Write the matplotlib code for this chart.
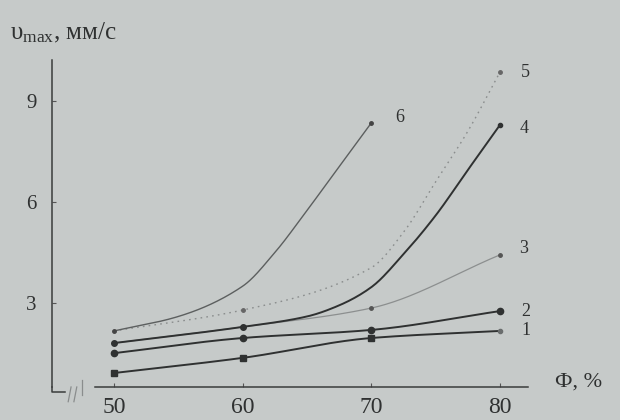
import numpy as np
import matplotlib
matplotlib.use("Agg")
import matplotlib.pyplot as plt

plt.rcParams['font.family'] = ['Liberation Serif', 'DejaVu Serif']
plt.rcParams['mathtext.fontset'] = 'custom'
plt.rcParams['mathtext.rm'] = 'Liberation Serif'
plt.rcParams['mathtext.it'] = 'Liberation Serif:italic'

# curves 1..6, phi in %, v_max in mm/s
phi_1 = [50, 60, 70, 80]
v_1 = [0.92, 1.37, 1.96, 2.17]
phi_2 = [50, 60, 70, 80]
v_2 = [1.51, 1.96, 2.20, 2.76]
phi_3 = [50, 60, 70, 80]
v_3 = [1.81, 2.29, 2.85, 4.43]
phi_4 = [50, 60, 65, 67.5, 70, 72.5, 75, 77.5, 80]
v_4 = [1.81, 2.29, 2.60, 2.93, 3.47, 4.45, 5.6, 6.95, 8.29]
phi_5 = [50, 60, 70, 72.5, 75, 77.5, 80]
v_5 = [2.17, 2.79, 4.05, 5.1, 6.6, 8.1, 9.86]
phi_6 = [50, 55, 60, 62.5, 65, 67.5, 70]
v_6 = [2.17, 2.6, 3.5, 4.5, 5.75, 7.05, 8.35]

x_ticks = [50, 60, 70, 80]
y_ticks = [3, 6, 9]
curve_names = ['1', '2', '3', '4', '5', '6']

bg = '#c6cac9'
ink = '#2f3131'


def smooth(xs, ys, n=200):
    # monotone cubic (pchip) path through the read points, for drawing only
    x = np.asarray(xs, float)
    y = np.asarray(ys, float)
    h = np.diff(x)
    d = np.diff(y) / h
    m = np.zeros_like(y)
    for k in range(1, len(x) - 1):
        if d[k - 1] * d[k] > 0:
            w1 = 2 * h[k] + h[k - 1]
            w2 = h[k] + 2 * h[k - 1]
            m[k] = (w1 + w2) / (w1 / d[k - 1] + w2 / d[k])
    m[0] = d[0]
    m[-1] = d[-1]
    xx = np.linspace(x[0], x[-1], n)
    i = np.clip(np.searchsorted(x, xx) - 1, 0, len(x) - 2)
    t = (xx - x[i]) / h[i]
    h00 = 2 * t**3 - 3 * t**2 + 1
    h10 = t**3 - 2 * t**2 + t
    h01 = -2 * t**3 + 3 * t**2
    h11 = t**3 - t**2
    yy = h00 * y[i] + h10 * h[i] * m[i] + h01 * y[i + 1] + h11 * h[i] * m[i + 1]
    return xx, yy


fig = plt.figure(figsize=(6.2, 4.2), dpi=100, facecolor=bg)
ax = fig.add_axes([0.0839, 0.0786, 0.7677, 0.7786], facecolor=bg)
ax.set_xlim(45.18, 82.18)
ax.set_ylim(0.505, 10.22)

# thin / faint curves first
ax.plot(*smooth(phi_5, v_5), color='#8a8d8d', lw=1.0, ls=(0, (1.2, 3)))
ax.plot(*smooth(phi_3, v_3), color='#8c8f8f', lw=0.9)
ax.plot(*smooth(phi_6, v_6), color='#5c5f5f', lw=1.0)
ax.plot(*smooth(phi_4, v_4), color=ink, lw=1.4)
ax.plot(*smooth(phi_2, v_2), color=ink, lw=1.4)
ax.plot(*smooth(phi_1, v_1), color=ink, lw=1.4)

# point markers
ax.plot([phi_5[1], phi_5[-1]], [v_5[1], v_5[-1]], 'o', ms=2.5, color='#666', ls='none')
ax.plot(phi_3[2:], v_3[2:], 'o', ms=2.5, color='#555', ls='none')
ax.plot([phi_6[0], phi_6[-1]], [v_6[0], v_6[-1]], 'o', ms=2.5, color='#444', ls='none')
ax.plot(phi_4[:2], v_4[:2], 'o', ms=4, color=ink, ls='none')
ax.plot(phi_4[-1], v_4[-1], 'o', ms=3, color=ink, ls='none')
ax.plot(phi_2, v_2, 'o', ms=4.5, color=ink, ls='none')
ax.plot(phi_1[:3], v_1[:3], 's', ms=4.5, color=ink, ls='none')
ax.plot(phi_1[-1], v_1[-1], 'o', ms=3, color='#6a6d6d', ls='none')

# curve numbers next to the curve ends
ends = [(phi_1[-1], v_1[-1], 26, 0), (phi_2[-1], v_2[-1], 26, 0),
        (phi_3[-1], v_3[-1], 24, 6), (phi_4[-1], v_4[-1], 24, -4),
        (phi_5[-1], v_5[-1], 25, 0), (phi_6[-1], v_6[-1], 28, 5)]
for name, (x, y, dx, dy) in zip(curve_names, ends):
    ax.annotate(name, (x, y), xytext=(dx * 0.72, dy * 0.72), textcoords='offset points',
                ha='center', va='center', fontsize=13, color=ink)

for s in ['top', 'right']:
    ax.spines[s].set_visible(False)
ax.spines['left'].set_color('#3a3c3c')
ax.spines['bottom'].set_color('#3a3c3c')
ax.spines['left'].set_linewidth(1.1)
ax.spines['bottom'].set_linewidth(1.1)
ax.spines['bottom'].set_bounds(48.5, 82.18)

ax.set_xticks(x_ticks)
ax.set_yticks(y_ticks)
ax.tick_params(axis='x', direction='in', length=3, width=0.8, color='#555',
               labelsize=17, pad=7, labelcolor=ink)
ax.tick_params(axis='y', direction='in', length=3, width=0.8, color='#555',
               labelsize=15, pad=11, labelcolor=ink)

# broken-axis corner at the origin
tr = ax.transAxes
ax.plot([0, 0, 0.028], [0, -0.015, -0.015], transform=tr, color='#3a3c3c', lw=1.1, clip_on=False)
ax.plot([0.034, 0.040], [-0.045, 0.0], transform=tr, color='#8a8d8d', lw=0.9, clip_on=False)
ax.plot([0.046, 0.052], [-0.045, 0.0], transform=tr, color='#8a8d8d', lw=0.9, clip_on=False)
ax.plot([0.062, 0.062], [-0.025, 0.02], transform=tr, color='#8a8d8d', lw=0.9, clip_on=False)

fig.text(0.016, 0.922, r'$\mathrm{υ}_{\mathrm{max}}$, мм/с', fontsize=18, color=ink,
         ha='left', va='center')
fig.text(0.895, 0.09, 'Ф, %', fontsize=16, color=ink, ha='left', va='center')

fig.savefig('out.png', dpi=100, facecolor=bg)
